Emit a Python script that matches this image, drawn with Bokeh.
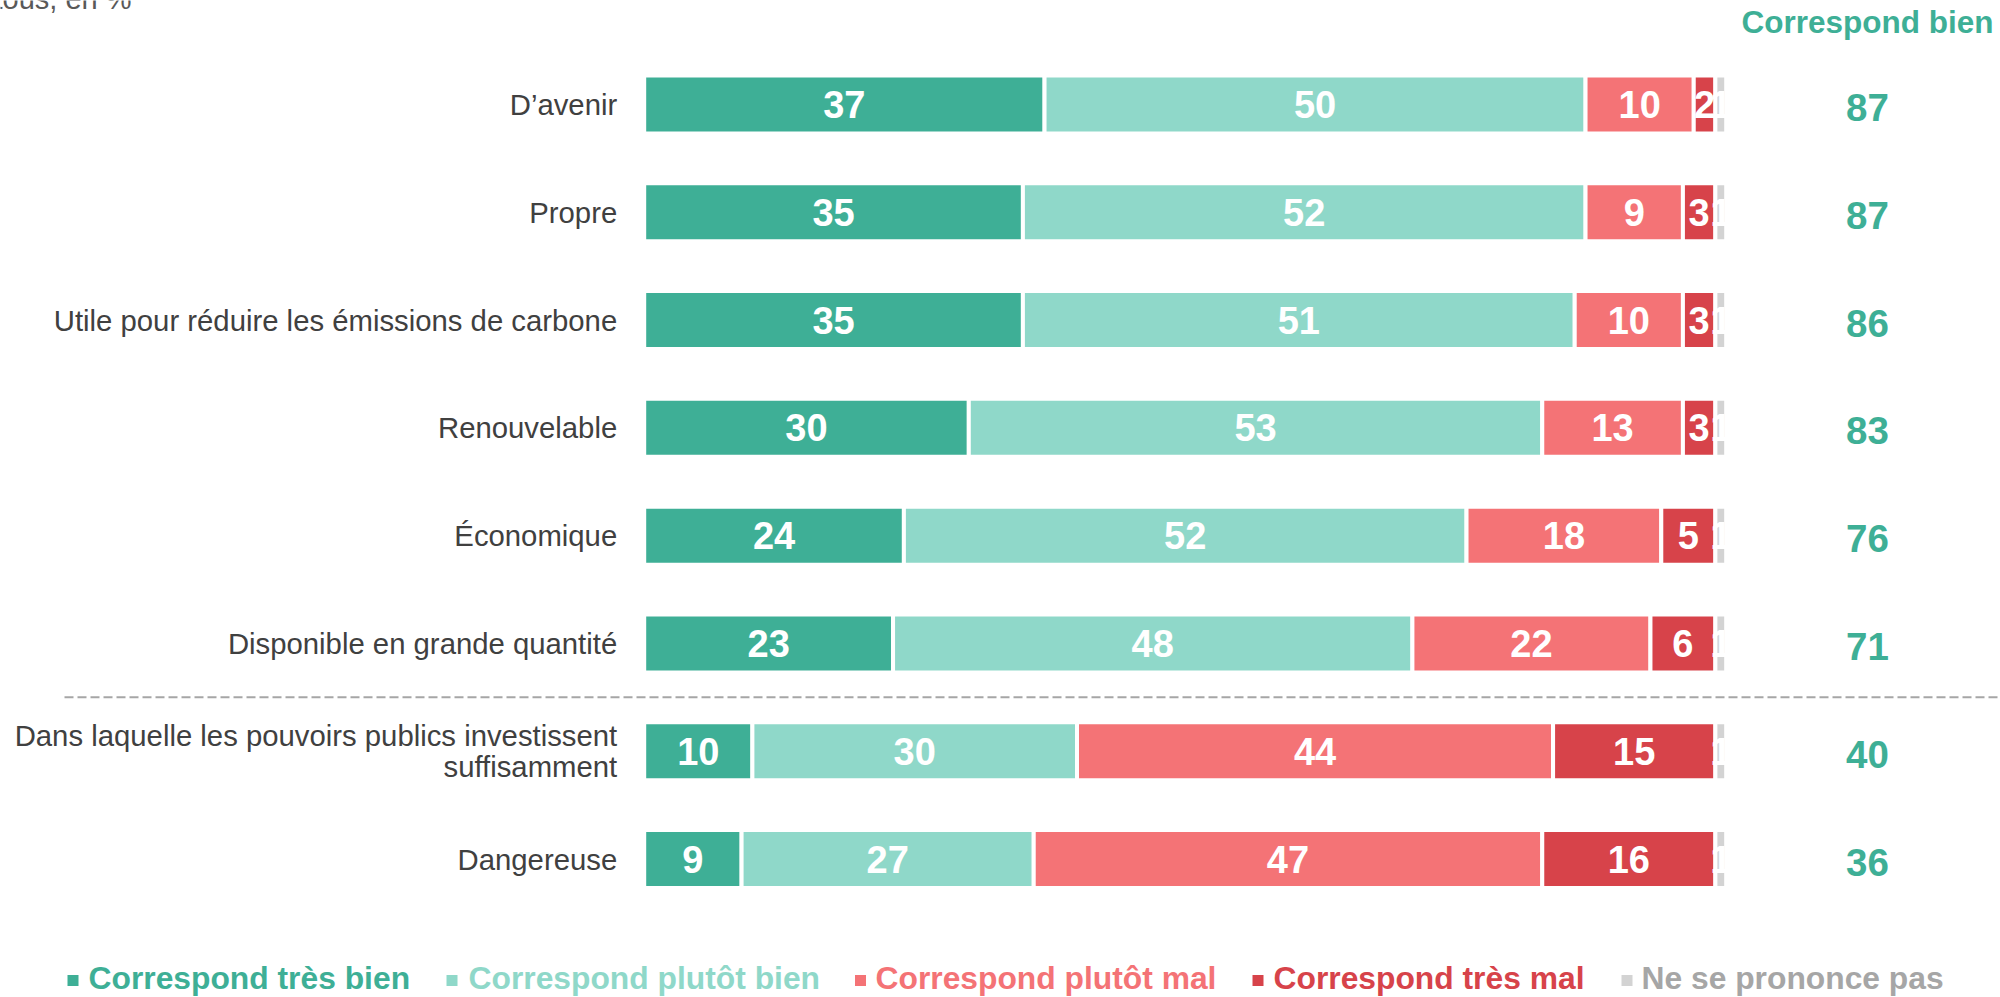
from bokeh.plotting import figure
from bokeh.models import Range1d, ColumnDataSource
from bokeh.embed import file_html
from bokeh.resources import INLINE
from bokeh.core.properties import value

# ---------------- data ----------------
categories = [
    "D’avenir",
    "Propre",
    "Utile pour réduire les émissions de carbone",
    "Renouvelable",
    "Économique",
    "Disponible en grande quantité",
    "Dans laquelle les pouvoirs publics investissent\nsuffisamment",
    "Dangereuse",
]
tres_bien = [37, 35, 35, 30, 24, 23, 10, 9]
plutot_bien = [50, 52, 51, 53, 52, 48, 30, 27]
plutot_mal = [10, 9, 10, 13, 18, 22, 44, 47]
tres_mal = [2, 3, 3, 3, 5, 6, 15, 16]
nsp = [1, 1, 1, 1, 1, 1, 1, 1]
total_bien = [87, 87, 86, 83, 76, 71, 40, 36]

series_names = ["Correspond très bien", "Correspond plutôt bien",
                "Correspond plutôt mal", "Correspond très mal", "Ne se prononce pas"]
series_values = [tres_bien, plutot_bien, plutot_mal, tres_mal, nsp]
series_colors = ["#3EAF96", "#8FD8C9", "#F47376", "#D7434A", "#D3D3D3"]
legend_text_colors = ["#3EAF96", "#8FD8C9", "#F47376", "#D7434A", "#A6A6A6"]
header_text = "Correspond bien"
note_text = "tous, en %"

# ---------------- layout helpers ----------------
W, H = 2000, 997
PX_PER_UNIT = 10.82
X0 = 643.7            # pixel x of value 0
ROW_PX = 107.79
ROW0 = 104.0          # pixel y of first row centre
x_start = -X0 / PX_PER_UNIT
x_end = x_start + W / PX_PER_UNIT
y_top = -ROW0 / ROW_PX
y_bottom = y_top + H / ROW_PX


def px2x(px):
    return x_start + px / PX_PER_UNIT


def px2y(py):
    return y_top + py / ROW_PX


FONT = value("Liberation Sans")

p = figure(width=W, height=H, x_range=Range1d(x_start, x_end),
           y_range=Range1d(y_bottom, y_top), min_border=0,
           toolbar_location=None, output_backend="svg",
           x_axis_type=None, y_axis_type=None)
p.grid.visible = False
p.outline_line_color = None
p.background_fill_color = "white"

rows = list(range(len(categories)))
bar_h = 58 / ROW_PX

# ---------------- bars + labels ----------------
left = [0] * len(rows)
for name, vals, col in zip(series_names, series_values, series_colors):
    right = [l + v for l, v in zip(left, vals)]
    src = ColumnDataSource(dict(y=rows, left=left, right=right,
                                mid=[(l + r) / 2 for l, r in zip(left, right)],
                                lab=[str(v) for v in vals]))
    p.hbar(y="y", left="left", right="right", height=bar_h, source=src,
           fill_color=col, line_color="white", line_width=4)
    p.text(x="mid", y="y", text="lab", source=src, text_font=FONT,
           text_font_style="bold", text_font_size="38px", text_color="white",
           text_align="center", text_baseline="middle")
    left = right

# ---------------- category labels ----------------
cx, cy, ct, coff = [], [], [], []
for i, cat in enumerate(categories):
    lines = cat.split("\n")
    n = len(lines)
    for j, line in enumerate(lines):
        cx.append(0)
        cy.append(i)
        ct.append(line)
        coff.append((j - (n - 1) / 2) * 31)
p.text(x="x", y="y", text="t", y_offset="off",
       source=ColumnDataSource(dict(x=cx, y=cy, t=ct, off=coff)),
       x_offset=-27, text_font=FONT, text_font_size="29.3px",
       text_color="#404040", text_align="right", text_baseline="middle")

# ---------------- "Correspond bien" column ----------------
col_x = px2x(1867)
p.text(x=[col_x] * len(rows), y=rows, text=[str(v) for v in total_bien],
       y_offset=3, text_font=FONT, text_font_style="bold",
       text_font_size="38.5px", text_color="#3EAF96",
       text_align="center", text_baseline="middle")
p.text(x=[col_x], y=[px2y(21)], text=[header_text], text_font=FONT,
       text_font_style="bold", text_font_size="31.5px", text_color="#3EAF96",
       text_align="center", text_baseline="middle")

# ---------------- separator ----------------
p.segment(x0=[px2x(64)], y0=[5.5], x1=[x_end + 1], y1=[5.5],
          line_color="#A6A6A6", line_width=2, line_dash="9 4")

# ---------------- top note (cut off at the top edge) ----------------
p.text(x=[px2x(-6)], y=[px2y(-2)], text=[note_text], text_font=FONT,
       text_font_size="29px", text_color="#595959", text_align="left",
       text_baseline="middle")

# ---------------- legend ----------------
sq_x = [72.5, 451.5, 860, 1257.5, 1626.5]
tx_x = [88, 468, 875, 1273, 1641]
p.scatter(x=[px2x(v) for v in sq_x], y=[px2y(980)] * 5,
          marker="square", size=11, fill_color=series_colors,
          line_color=None)
p.text(x=[px2x(v) for v in tx_x], y=[px2y(977)] * 5, text=series_names,
       text_color=legend_text_colors, text_font=FONT, text_font_style="bold",
       text_font_size="31.8px", text_align="left", text_baseline="middle")

open("out.html", "w").write(file_html(p, INLINE))
